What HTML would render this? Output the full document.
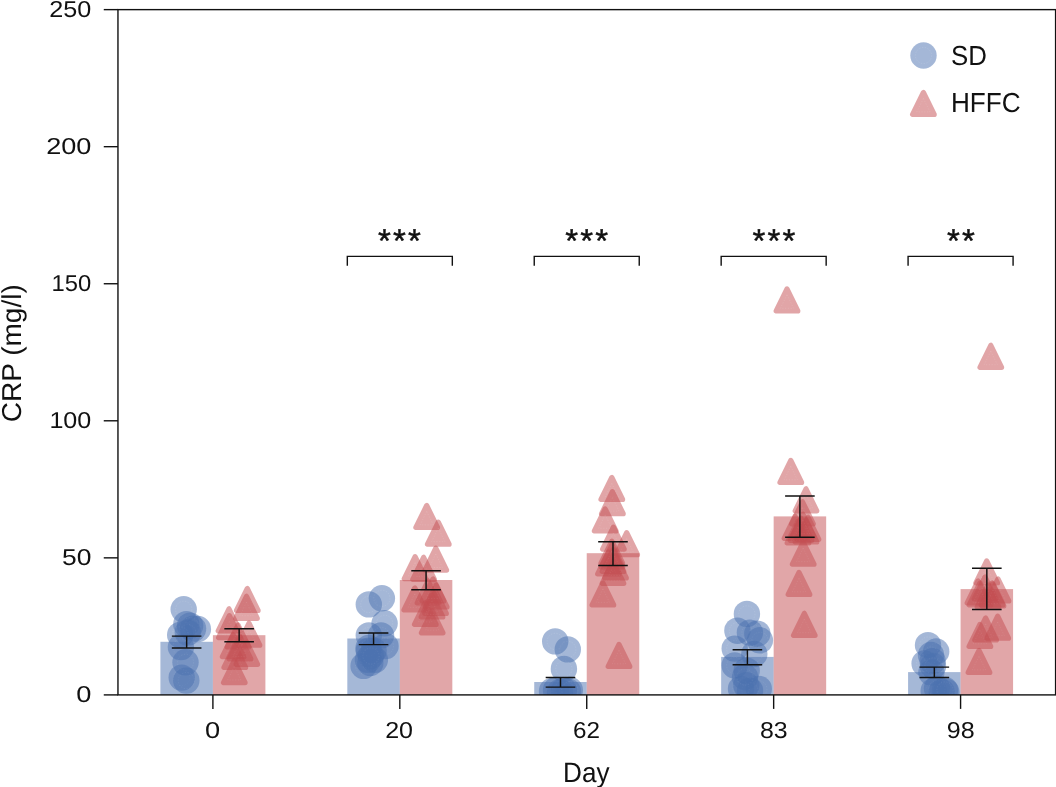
<!DOCTYPE html>
<html lang="en"><head><meta charset="utf-8"><title>CRP (mg/l) by Day</title>
<style>
html,body{margin:0;padding:0;background:#fff;}
body{width:1056px;height:787px;overflow:hidden;}
svg{display:block;font-family:"Liberation Sans",Arial,Helvetica,sans-serif;}
text{fill:#111;text-rendering:geometricPrecision;}
.st{stroke:#111;stroke-width:.45;stroke-linejoin:round;}
svg{will-change:transform;}
.ax{stroke:#111;stroke-width:1.4;fill:none;stroke-linecap:butt;stroke-linejoin:miter;}
.eb{stroke:#111;stroke-width:1.45;fill:none;}
.bb{fill:#4C72B0;fill-opacity:.5;}
.rb{fill:#C44E52;fill-opacity:.5;}
.m{opacity:.5;}
.ri{fill:none;stroke:#fff;stroke-width:.55;stroke-opacity:.2;stroke-dasharray:1.3 1.5;}
.c{fill:#4C72B0;}
.t{fill:#C44E52;stroke:#C44E52;stroke-width:5.2;stroke-linejoin:round;}
</style></head><body>
<svg width="1056" height="787" viewBox="0 0 1056 787">
<defs><g id="T" class="m"><polygon class="t" points="0,-11.0 -10.8,11.0 10.8,11.0"/><polygon class="ri" points="0,-5.1 -6.6,8.4 6.6,8.4"/></g>
<g id="C" class="m"><circle class="c" r="13.2"/><circle class="ri" r="8.1"/></g></defs>
<defs><clipPath id="cp"><rect x="117.96" y="9.63" width="937.64" height="685.27"/></clipPath></defs>
<rect width="1056" height="787" fill="#fff"/>
<g clip-path="url(#cp)">
<rect class="bb" x="160.40" y="641.8" width="52.50" height="53.1"/>
<rect class="rb" x="212.90" y="635.2" width="52.50" height="59.7"/>
<rect class="bb" x="347.32" y="638.5" width="52.50" height="56.4"/>
<rect class="rb" x="399.82" y="580.0" width="52.50" height="114.9"/>
<rect class="bb" x="534.24" y="682.0" width="52.50" height="12.9"/>
<rect class="rb" x="586.74" y="553.2" width="52.50" height="141.7"/>
<rect class="bb" x="721.16" y="656.9" width="52.50" height="38.0"/>
<rect class="rb" x="773.66" y="516.4" width="52.50" height="178.5"/>
<rect class="bb" x="908.08" y="672.1" width="52.50" height="22.8"/>
<rect class="rb" x="960.58" y="589.1" width="52.50" height="105.8"/>
<use href="#C" x="183.7" y="609.3"/>
<use href="#C" x="186.3" y="624.2"/>
<use href="#C" x="197.9" y="629.0"/>
<use href="#C" x="193.1" y="628.8"/>
<use href="#C" x="190.1" y="625.7"/>
<use href="#C" x="187.8" y="632.6"/>
<use href="#C" x="180.2" y="634.9"/>
<use href="#C" x="180.9" y="647.1"/>
<use href="#C" x="185.5" y="662.3"/>
<use href="#C" x="181.7" y="677.6"/>
<use href="#C" x="186.3" y="680.6"/>
<use href="#T" x="247.3" y="599.5"/>
<use href="#T" x="246.5" y="607.3"/>
<use href="#T" x="229.0" y="619.8"/>
<use href="#T" x="249.0" y="634.2"/>
<use href="#T" x="229.4" y="626.6"/>
<use href="#T" x="233.2" y="645.7"/>
<use href="#T" x="246.8" y="653.3"/>
<use href="#T" x="234.8" y="656.4"/>
<use href="#T" x="234.3" y="671.6"/>
<use href="#T" x="238.0" y="636.0"/>
<use href="#T" x="240.0" y="648.0"/>
<use href="#C" x="368.8" y="604.4"/>
<use href="#C" x="381.9" y="598.3"/>
<use href="#C" x="384.6" y="623.3"/>
<use href="#C" x="368.8" y="635.4"/>
<use href="#C" x="381.0" y="635.4"/>
<use href="#C" x="385.5" y="646.1"/>
<use href="#C" x="368.8" y="650.7"/>
<use href="#C" x="374.9" y="659.8"/>
<use href="#C" x="363.6" y="665.9"/>
<use href="#C" x="370.3" y="662.9"/>
<use href="#C" x="367.9" y="659.8"/>
<use href="#C" x="373.6" y="650.6"/>
<use href="#C" x="368.5" y="648.0"/>
<use href="#C" x="371.0" y="656.0"/>
<use href="#T" x="426.7" y="516.5"/>
<use href="#T" x="438.3" y="533.2"/>
<use href="#T" x="435.8" y="559.1"/>
<use href="#T" x="415.1" y="567.7"/>
<use href="#T" x="423.6" y="568.3"/>
<use href="#T" x="432.2" y="621.8"/>
<use href="#T" x="425.3" y="613.5"/>
<use href="#T" x="435.5" y="602.5"/>
<use href="#T" x="436.2" y="596.0"/>
<use href="#T" x="428.0" y="592.0"/>
<use href="#T" x="414.8" y="599.0"/>
<use href="#T" x="432.0" y="606.0"/>
<use href="#T" x="433.0" y="590.0"/>
<use href="#C" x="555.2" y="641.4"/>
<use href="#C" x="567.8" y="649.4"/>
<use href="#C" x="563.9" y="668.9"/>
<use href="#C" x="552.0" y="691.0"/>
<use href="#C" x="556.0" y="690.0"/>
<use href="#C" x="560.0" y="692.0"/>
<use href="#C" x="564.0" y="690.5"/>
<use href="#C" x="568.0" y="691.5"/>
<use href="#C" x="569.8" y="690.0"/>
<use href="#T" x="611.8" y="488.5"/>
<use href="#T" x="612.4" y="502.7"/>
<use href="#T" x="605.2" y="519.9"/>
<use href="#T" x="613.4" y="538.1"/>
<use href="#T" x="626.7" y="543.7"/>
<use href="#T" x="611.8" y="552.2"/>
<use href="#T" x="613.0" y="560.4"/>
<use href="#T" x="613.0" y="572.3"/>
<use href="#T" x="602.9" y="594.0"/>
<use href="#T" x="619.0" y="655.4"/>
<use href="#T" x="608.5" y="563.0"/>
<use href="#T" x="615.5" y="567.0"/>
<use href="#T" x="612.0" y="556.0"/>
<use href="#C" x="746.9" y="613.9"/>
<use href="#C" x="737.4" y="630.7"/>
<use href="#C" x="749.9" y="632.6"/>
<use href="#C" x="757.3" y="633.7"/>
<use href="#C" x="759.9" y="640.3"/>
<use href="#C" x="754.3" y="654.0"/>
<use href="#C" x="734.7" y="648.6"/>
<use href="#C" x="734.7" y="665.4"/>
<use href="#C" x="746.7" y="670.7"/>
<use href="#C" x="746.3" y="685.3"/>
<use href="#C" x="758.8" y="688.9"/>
<use href="#C" x="750.0" y="690.7"/>
<use href="#C" x="741.0" y="688.9"/>
<use href="#C" x="745.0" y="677.0"/>
<use href="#T" x="787.0" y="299.9"/>
<use href="#T" x="790.8" y="471.4"/>
<use href="#T" x="806.0" y="499.8"/>
<use href="#T" x="802.5" y="512.8"/>
<use href="#T" x="795.0" y="527.3"/>
<use href="#T" x="801.0" y="529.3"/>
<use href="#T" x="806.0" y="531.0"/>
<use href="#T" x="798.0" y="532.0"/>
<use href="#T" x="808.0" y="528.3"/>
<use href="#T" x="803.0" y="525.3"/>
<use href="#T" x="803.2" y="553.2"/>
<use href="#T" x="799.0" y="583.4"/>
<use href="#T" x="804.3" y="624.3"/>
<use href="#C" x="928.0" y="645.1"/>
<use href="#C" x="936.2" y="651.5"/>
<use href="#C" x="924.6" y="663.4"/>
<use href="#C" x="932.6" y="661.1"/>
<use href="#C" x="931.4" y="672.6"/>
<use href="#C" x="933.7" y="690.9"/>
<use href="#C" x="941.7" y="692.0"/>
<use href="#C" x="946.3" y="692.0"/>
<use href="#C" x="937.0" y="688.6"/>
<use href="#C" x="931.0" y="655.0"/>
<use href="#C" x="933.0" y="666.0"/>
<use href="#C" x="945.0" y="690.0"/>
<use href="#T" x="990.8" y="356.3"/>
<use href="#T" x="986.7" y="571.9"/>
<use href="#T" x="978.0" y="592.0"/>
<use href="#T" x="985.0" y="588.0"/>
<use href="#T" x="992.0" y="594.0"/>
<use href="#T" x="998.0" y="590.0"/>
<use href="#T" x="988.0" y="596.0"/>
<use href="#T" x="980.0" y="594.0"/>
<use href="#T" x="993.0" y="595.0"/>
<use href="#T" x="997.7" y="627.2"/>
<use href="#T" x="985.6" y="629.0"/>
<use href="#T" x="979.9" y="635.4"/>
<use href="#T" x="979.0" y="661.5"/>
</g>
<path class="eb" d="M186.65 636.10V647.90M171.85 636.10H201.45M171.85 647.90H201.45"/>
<path class="eb" d="M239.15 628.80V641.80M224.35 628.80H253.95M224.35 641.80H253.95"/>
<path class="eb" d="M373.57 633.00V644.60M358.77 633.00H388.37M358.77 644.60H388.37"/>
<path class="eb" d="M426.07 570.80V589.70M411.27 570.80H440.87M411.27 589.70H440.87"/>
<path class="eb" d="M560.49 677.50V687.10M545.69 677.50H575.29M545.69 687.10H575.29"/>
<path class="eb" d="M612.99 541.70V565.40M598.19 541.70H627.79M598.19 565.40H627.79"/>
<path class="eb" d="M747.41 649.80V664.70M732.61 649.80H762.21M732.61 664.70H762.21"/>
<path class="eb" d="M799.91 495.90V537.20M785.11 495.90H814.71M785.11 537.20H814.71"/>
<path class="eb" d="M934.33 667.10V677.40M919.53 667.10H949.13M919.53 677.40H949.13"/>
<path class="eb" d="M986.83 568.25V609.50M972.03 568.25H1001.63M972.03 609.50H1001.63"/>
<rect class="ax" x="117.96" y="9.63" width="937.64" height="685.27"/>
<path class="ax" d="M103.76 694.90H117.96"/>
<text font-size="23.00" transform="translate(76.21,702.15) scale(1.1837,1)">0</text>
<path class="ax" d="M103.76 557.85H117.96"/>
<text font-size="23.00" transform="translate(61.94,565.10) scale(1.1496,1)">50</text>
<path class="ax" d="M103.76 420.79H117.96"/>
<text font-size="23.00" transform="translate(49.42,428.04) scale(1.0905,1)">100</text>
<path class="ax" d="M103.76 283.74H117.96"/>
<text font-size="23.00" transform="translate(51.52,290.99) scale(1.0345,1)">150</text>
<path class="ax" d="M103.76 146.68H117.96"/>
<text font-size="23.00" transform="translate(46.15,153.93) scale(1.1778,1)">200</text>
<path class="ax" d="M103.76 9.63H117.96"/>
<text font-size="23.00" transform="translate(49.24,16.88) scale(1.0952,1)">250</text>
<path class="ax" d="M212.90 694.90V708.90"/>
<text font-size="23.00" transform="translate(205.11,737.90) scale(1.1837,1)">0</text>
<path class="ax" d="M399.82 694.90V708.90"/>
<text font-size="23.00" transform="translate(385.15,737.90) scale(1.0886,1)">20</text>
<path class="ax" d="M586.74 694.90V708.90"/>
<text font-size="23.00" transform="translate(572.99,737.90) scale(1.0547,1)">62</text>
<path class="ax" d="M773.66 694.90V708.90"/>
<text font-size="23.00" transform="translate(759.94,737.90) scale(1.0817,1)">83</text>
<path class="ax" d="M960.58 694.90V708.90"/>
<text font-size="23.00" transform="translate(946.81,737.90) scale(1.0912,1)">98</text>
<text font-size="28.00" transform="translate(563.05,781.90) scale(0.9327,1)">Day</text>
<text font-size="27.30" transform="translate(21.20,422.20) rotate(-90) scale(1.0260,1)">CRP (mg/l)</text>
<path class="ax" d="M347.32 265.8V256.35H452.32V265.8"/>
<text class="st" font-size="33.0" x="377.99 392.99 407.99" y="252.3">***</text>
<path class="ax" d="M534.24 265.8V256.35H639.24V265.8"/>
<text class="st" font-size="33.0" x="565.31 580.31 595.31" y="252.3">***</text>
<path class="ax" d="M721.16 265.8V256.35H826.16V265.8"/>
<text class="st" font-size="33.0" x="752.62 767.62 782.62" y="252.3">***</text>
<path class="ax" d="M908.08 265.8V256.35H1013.08V265.8"/>
<text class="st" font-size="33.0" x="946.94 961.94" y="252.3">**</text>
<use href="#C" x="923.5" y="55.5"/>
<use href="#T" x="923.4" y="103.5"/>
<text font-size="27.50" transform="translate(951.04,64.60) scale(0.9389,1)">SD</text>
<text font-size="27.50" transform="translate(950.94,111.70) scale(0.9502,1)">HFFC</text>
</svg></body></html>
